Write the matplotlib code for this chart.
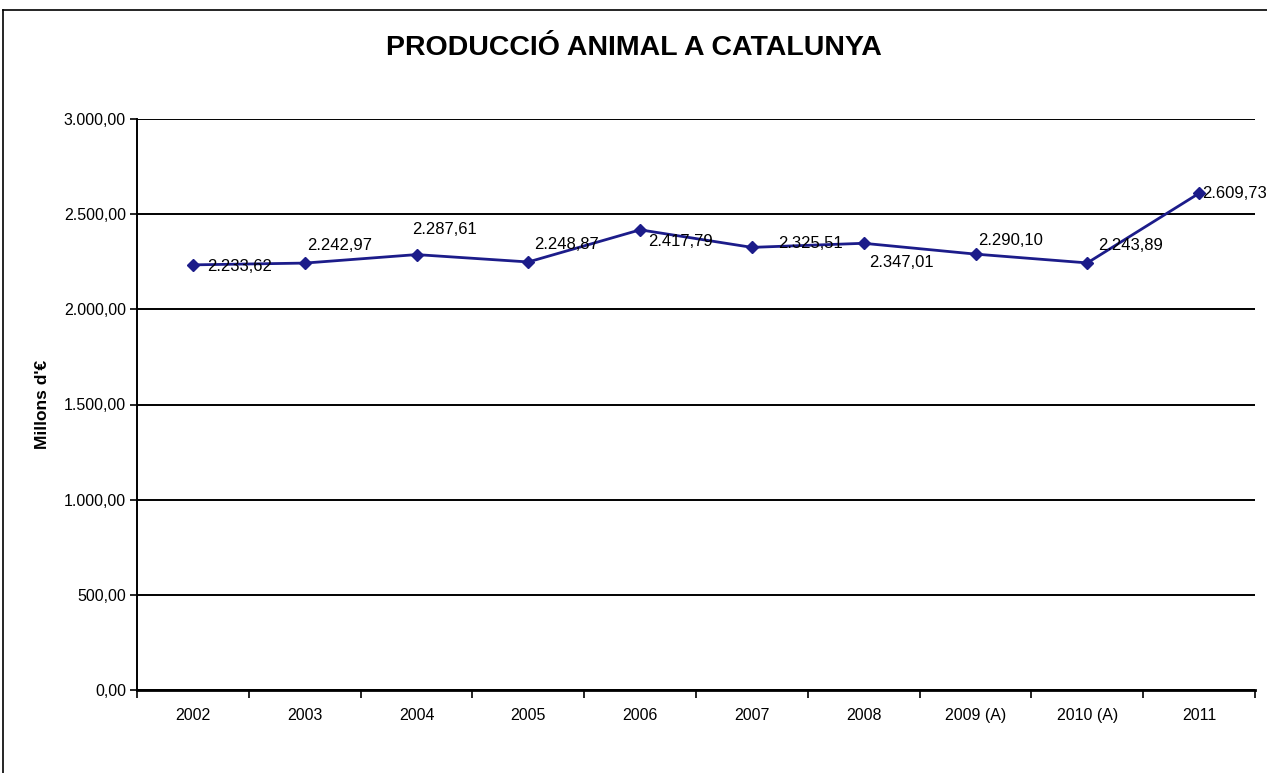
import numpy as np
import matplotlib.pyplot as plt
from matplotlib.lines import Line2D
from matplotlib.ticker import FuncFormatter

# dades
anys = ['2002', '2003', '2004', '2005', '2006', '2007', '2008', '2009 (A)', '2010 (A)', '2011']
produccio = [2233.62, 2242.97, 2287.61, 2248.87, 2417.79, 2325.51, 2347.01, 2290.10, 2243.89, 2609.73]
etiquetes = ['2.233,62', '2.242,97', '2.287,61', '2.248,87', '2.417,79',
             '2.325,51', '2.347,01', '2.290,10', '2.243,89', '2.609,73']
# desplaçament de cada etiqueta (px: dreta, amunt)
despl = [(14, -2), (2, 18), (-4, 25), (6, 17), (8, -12),
         (26, 4), (5, -19), (3, 14), (11, 17), (3, 0)]

plt.rcParams['font.family'] = ['Liberation Sans', 'DejaVu Sans']

fig = plt.figure(figsize=(12.67, 7.73), dpi=100)
fig.set_facecolor('white')
ax = fig.add_axes([137/1267, 1 - 690/773, (1255 - 137)/1267, (690 - 119)/773])

x = np.arange(len(anys))
ax.plot(x, produccio, color='#1c1c8a', lw=2, marker='D', ms=6, zorder=3)

px = 0.72  # punts per pixel
for i in range(len(anys)):
    ax.annotate(etiquetes[i], (x[i], produccio[i]),
                xytext=(despl[i][0]*px, despl[i][1]*px), textcoords='offset points',
                ha='left', va='center', fontsize=12, color='black', zorder=4)

ax.set_ylim(0, 3000)
ax.set_yticks(np.arange(0, 3001, 500))
ax.yaxis.set_major_formatter(FuncFormatter(
    lambda v, p: f'{v:,.2f}'.replace(',', 'X').replace('.', ',').replace('X', '.')))
ax.grid(axis='y', color='black', lw=1.4)
ax.set_axisbelow(True)

ax.set_xlim(-0.5, len(anys) - 0.5)
ax.set_xticks(x)
ax.set_xticklabels(anys)
ax.set_xticks(np.arange(-0.5, len(anys), 1), minor=True)
ax.tick_params(axis='x', which='major', length=0, pad=13, labelsize=11.5)
ax.tick_params(axis='x', which='minor', length=6, width=1.2, direction='out')
ax.tick_params(axis='y', length=5, width=1.2, pad=3, labelsize=11.5)

for s in ['top', 'right']:
    ax.spines[s].set_visible(False)
ax.spines['left'].set_linewidth(1.4)
ax.spines['bottom'].set_linewidth(2)

ax.set_ylabel("Millons d'€", fontsize=12.5, fontweight='bold', labelpad=10)

fig.text(0.5, 1 - 48/773, 'PRODUCCIÓ ANIMAL A CATALUNYA', ha='center', va='center',
         fontsize=20.5, fontweight='bold')

# vora de l'àrea del gràfic
fig.add_artist(Line2D([3/1267, 3/1267], [0, 1 - 10/773], color='black', lw=1.2))
fig.add_artist(Line2D([3/1267, 1], [1 - 10/773, 1 - 10/773], color='black', lw=1.2))

plt.savefig('out.png', dpi=100)
